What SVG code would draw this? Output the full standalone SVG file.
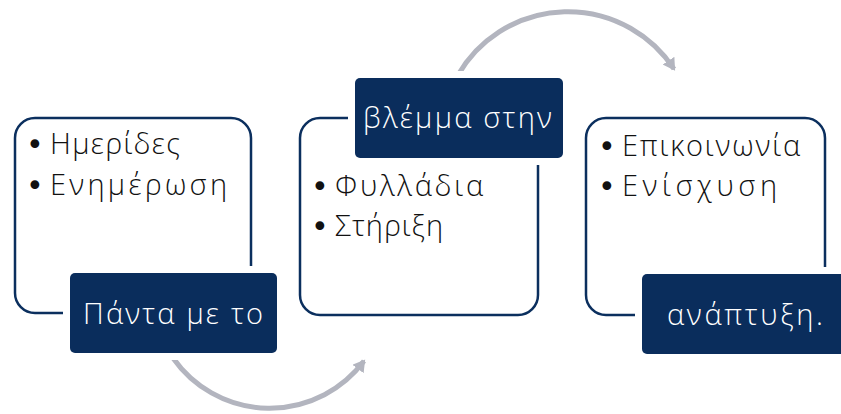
<svg xmlns="http://www.w3.org/2000/svg" width="841" height="414" viewBox="0 0 841 414">
<style>
.frame{fill:#fff;stroke:#0b2f5e;stroke-width:2.5}
.gap{fill:#fff}
.tag{fill:#0a2d5c}
.tt{fill:#fff;font-family:"Open Sans","Liberation Sans",sans-serif;font-size:29px;font-weight:300}
.bt{fill:#111;font-family:"Open Sans","Liberation Sans",sans-serif;font-size:29px;font-weight:300}
.bu{fill:#111;font-family:"DejaVu Sans",sans-serif;font-size:30px}
.arc{fill:none;stroke:#b3b5bf;stroke-width:5}
</style>
<defs>
<marker id="ah" markerUnits="userSpaceOnUse" markerWidth="16" markerHeight="16" refX="10" refY="7" orient="auto">
<path d="M0,0 L12,7 L0,14 Z" fill="#b3b5bf"/>
</marker>
</defs>
<g id="connectors">
<path class="arc" d="M173,358 A118,118 0 0 0 364,361" marker-end="url(#ah)"/>
<path class="arc" d="M458,75 A127,127 0 0 1 674,69" marker-end="url(#ah)"/>
</g>
<g id="node1">
<rect class="frame" x="15" y="118" width="236" height="195" rx="20"/>
<rect class="gap" x="63" y="266" width="222" height="94"/>
<rect class="tag" x="70" y="273" width="207" height="80" rx="5"/>
<text class="tt" x="83" y="324" textLength="180" lengthAdjust="spacing">Πάντα με το</text>
<text class="bu" x="26" y="155">•</text><text class="bt" x="50" y="154" textLength="130" lengthAdjust="spacing">Ημερίδες</text>
<text class="bu" x="26" y="196">•</text><text class="bt" x="50" y="195" textLength="177" lengthAdjust="spacing">Ενημέρωση</text>
</g>
<g id="node2">
<rect class="frame" x="300" y="118" width="238" height="197" rx="20"/>
<rect class="gap" x="348" y="71" width="222" height="94"/>
<rect class="tag" x="355" y="78" width="208" height="80" rx="5"/>
<text class="tt" x="363" y="128" textLength="189" lengthAdjust="spacing">βλέμμα στην</text>
<text class="bu" x="311" y="197">•</text><text class="bt" x="335" y="196" textLength="148" lengthAdjust="spacing">Φυλλάδια</text>
<text class="bu" x="311" y="237">•</text><text class="bt" x="335" y="236" textLength="108" lengthAdjust="spacing">Στήριξη</text>
</g>
<g id="node3">
<rect class="frame" x="586" y="118" width="239" height="197" rx="20"/>
<rect class="gap" x="635" y="267" width="222" height="94"/>
<rect class="tag" x="642" y="274" width="208" height="80" rx="5"/>
<text class="tt" x="667" y="325" textLength="156" lengthAdjust="spacing">ανάπτυξη.</text>
<text class="bu" x="598" y="157">•</text><text class="bt" x="622" y="156" textLength="178" lengthAdjust="spacing">Επικοινωνία</text>
<text class="bu" x="598" y="197">•</text><text class="bt" x="622" y="196" textLength="155" lengthAdjust="spacing">Ενίσχυση</text>
</g>
</svg>
